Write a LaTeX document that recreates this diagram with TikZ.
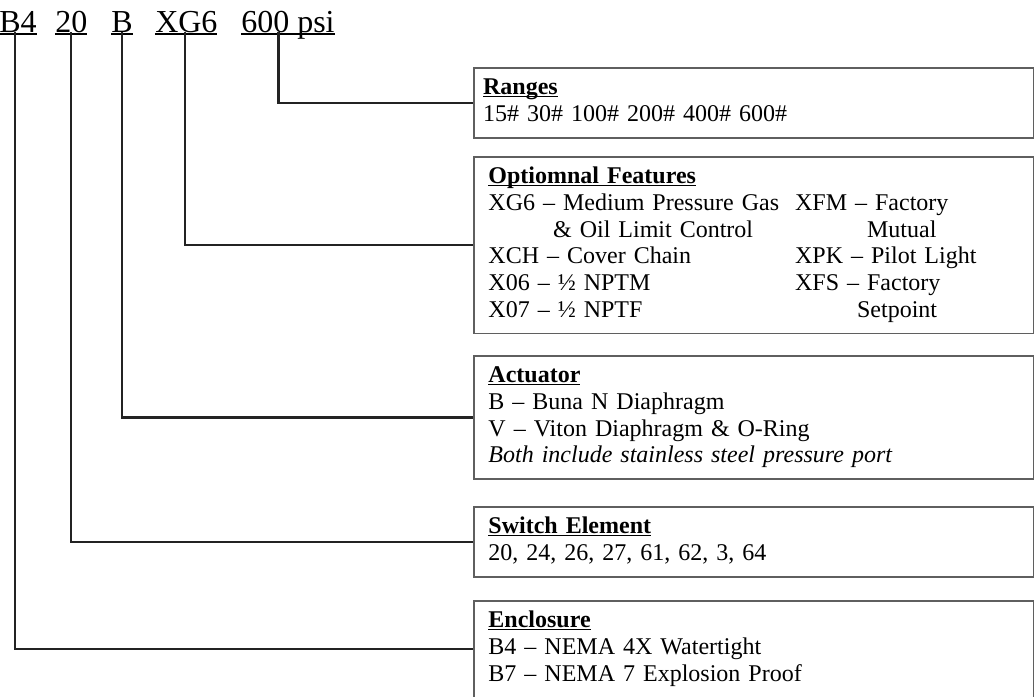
\documentclass[tikz,border=0pt]{standalone}
\usepackage{fontspec}
\setmainfont{Liberation Serif}
\usepackage{tikz}
\definecolor{boxgray}{RGB}{95,95,95}
\definecolor{leadgray}{RGB}{35,35,35}
\newcommand{\undl}[1]{\setbox0\hbox{#1}\rlap{\rule[-0.1em]{\wd0}{0.06em}}\box0}

\begin{document}
\begin{tikzpicture}[x=0.75pt,y=-0.75pt,
    partcode/.style={anchor=base west,inner sep=0pt,font=\fontsize{24}{28}\selectfont},
    optbox/.style={draw=boxgray,line width=1.2pt,anchor=north west,inner xsep=11pt,
      inner ysep=6.25pt,text width=398pt,align=left,font=\fontsize{18}{20}\selectfont},
    leader/.style={leadgray,line width=1.8pt}]
        \useasboundingbox (0,0) rectangle (1034,696);

        % part number
        \node[partcode] (cEnc) at (-1,32) {\undl{B4}};
        \node[partcode] (cSw) at (55,32) {\undl{20}};
        \node[partcode] (cAct) at (111,32) {\undl{B}};
        \node[partcode] (cOpt) at (155,32) {\undl{XG6}};
        \node[partcode] (cRng) at (241,32) {\undl{600 psi}};

        % option boxes
        \node[optbox,inner xsep=7pt,text width=406pt] (rng) at (473,67) {%
          \begin{tabular}{@{}l@{}}
          \undl{\textbf{Ranges}}\\
          15\#\hspace{6pt}30\#\hspace{6pt}100\#\hspace{6pt}200\#\hspace{6pt}400\#\hspace{6pt}600\#
          \end{tabular}};
        \node[optbox] (opt) at (473,156) {%
          \begin{tabular}{@{}p{230pt}@{}l@{}}
          \multicolumn{2}{@{}l@{}}{\undl{\textbf{Optiomnal Features}}}\\
          XG6 – Medium Pressure Gas & XFM – Factory\\
          \hspace*{48.5pt}\& Oil Limit Control & \hspace*{54pt}Mutual\\
          XCH – Cover Chain & XPK – Pilot Light\\
          X06 – ½ NPTM & XFS – Factory\\
          X07 – ½ NPTF & \hspace*{46.5pt}Setpoint
          \end{tabular}};
        \node[optbox] (act) at (473,355) {%
          \begin{tabular}{@{}l@{}}
          \undl{\textbf{Actuator}}\\
          B – Buna N Diaphragm\\
          V – Viton Diaphragm \& O-Ring\\
          \textit{Both include stainless steel pressure port}
          \end{tabular}};
        \node[optbox] (sw) at (473,506) {%
          \begin{tabular}{@{}l@{}}
          \undl{\textbf{Switch Element}}\\
          20, 24, 26, 27, 61, 62, 3, 64
          \end{tabular}};
        \node[optbox] (enc) at (473,600) {%
          \begin{tabular}{@{}l@{}}
          \undl{\textbf{Enclosure}}\\
          B4 – NEMA 4X Watertight\\
          B7 – NEMA 7 Explosion Proof
          \end{tabular}};

        % leaders
        \draw[leader] ([xshift=-7pt]cRng.base) |- (rng.west);
        \draw[leader] ([xshift=-1pt]cOpt.base) |- (opt.west);
        \draw[leader] (cAct.base) |- (act.west);
        \draw[leader] (cSw.base) |- (sw.west);
        \draw[leader] ([xshift=-2pt]cEnc.base) |- (enc.west);
    \end{tikzpicture}
\end{document}
